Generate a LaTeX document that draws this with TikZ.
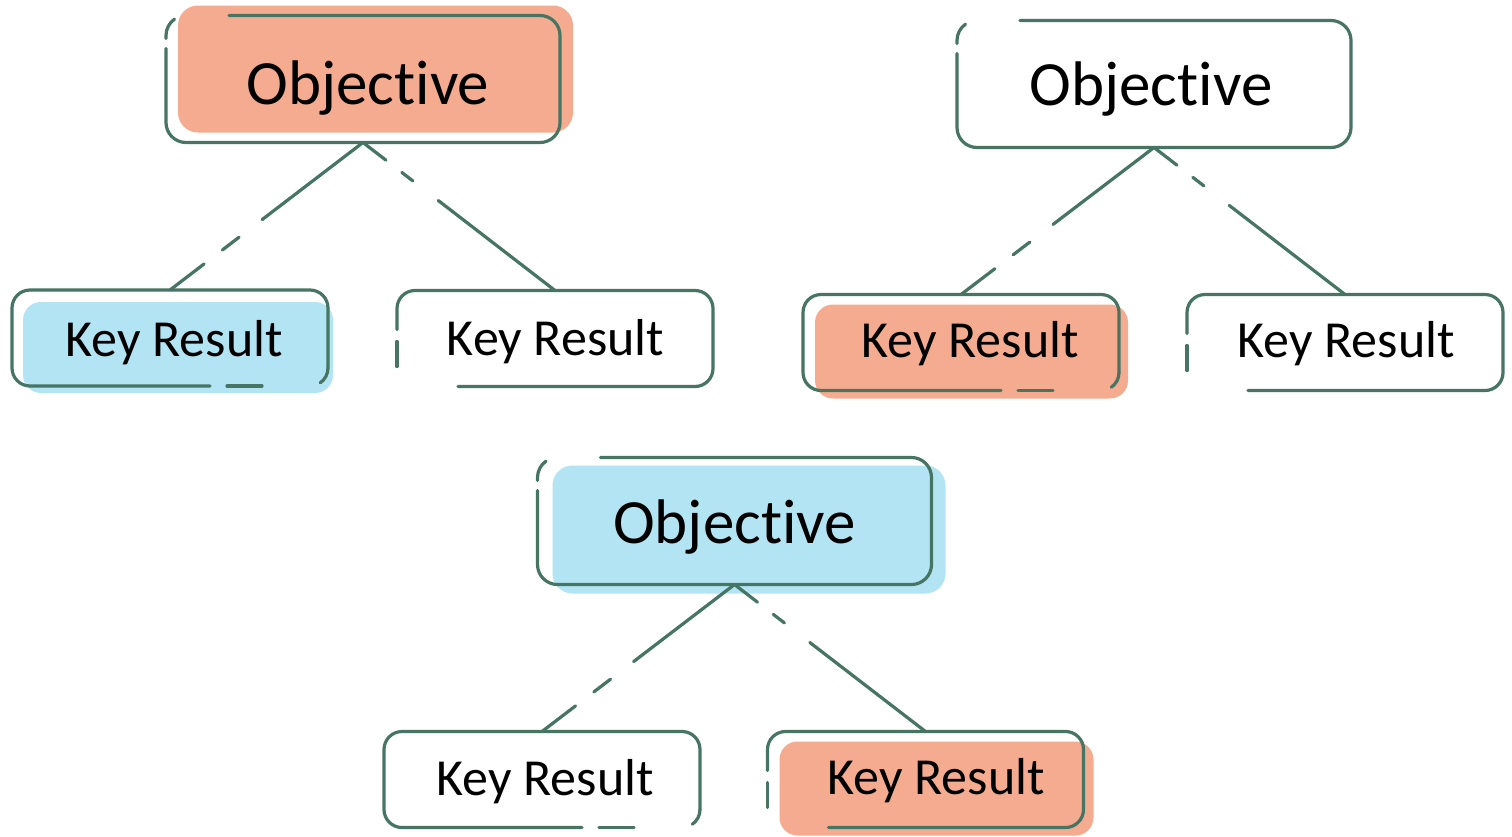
\documentclass[tikz,border=0pt]{standalone}
\usepackage{fontspec}
\setmainfont{Carlito}[Ligatures=NoCommon]
\usetikzlibrary{calc}
\definecolor{salmon}{HTML}{F5AB8F}
\definecolor{skyb}{HTML}{B3E4F3}
\definecolor{lineteal}{HTML}{467564}
\newcommand\objoutline[1]{%
 \draw[ol, rounded corners=20pt] ($(#1.north west)+(63,0)$) -- (#1.north east) -- (#1.south east) -- (#1.south west) -- ($(#1.north west)+(0,33)$);
 \draw[ol] ($(#1.north west)+(0,23)$) -- ($(#1.north west)+(0,20)$) arc[start angle=180, end angle=125, radius=20pt];
}
\newcommand\kroutB[1]{%
 \draw[ol, rounded corners=18pt] ($(#1.south east)+(-118,0)$) -- (#1.south west) -- (#1.north west) -- (#1.north east) -- ($(#1.south east)+(0,-18)$);
 \draw[ol] ($(#1.south east)+(0,-18)$) arc[start angle=0, end angle=-55, radius=18pt];
 \draw[ol] ($(#1.south east)+(-101,0)$) -- ($(#1.south east)+(-66,0)$);
}
\newcommand\kroutC[1]{%
 \draw[ol, rounded corners=18pt] ($(#1.north west)+(0,39)$) -- (#1.north west) -- (#1.north east) -- (#1.south east) -- ($(#1.south west)+(61,0)$);
 \draw[ol] ($(#1.north west)+(0,51)$) -- ($(#1.north west)+(0,76)$);
}
\newcommand\objword{Object\kern0pt ive}
\begin{document}
\begin{tikzpicture}[x=1pt,y=-1pt,
  obox/.style={minimum width=394pt, minimum height=127pt, inner sep=0pt, outer sep=0pt},
  kbox/.style={minimum width=316pt, minimum height=96pt, inner sep=0pt, outer sep=0pt},
  ol/.style={draw=lineteal, line width=3.2pt, line cap=round},
  otext/.style={font=\fontsize{63}{63}\selectfont, anchor=base, inner sep=0pt},
  ktext/.style={font=\fontsize{52}{52}\selectfont, anchor=base, inner sep=0pt},
  leftline/.style={ol, dash pattern=on 127pt off 29pt on 21pt off 23pt on 400pt off 1pt},
  rightline/.style={ol, dash pattern=on 29pt off 20pt on 14pt off 32pt on 400pt off 1pt},
]
\useasboundingbox[fill=white] (0,0) rectangle (1512,836);
% boxes
\node[obox] (o1) at (363,79) {};
\node[obox] (o2) at (1154,84) {};
\node[obox] (o3) at (734.5,521) {};
\node[kbox] (k1) at (170,338) {};
\node[kbox] (k2) at (555,338.5) {};
\node[kbox] (k3) at (961,342.5) {};
\node[kbox] (k4) at (1345,342.5) {};
\node[kbox] (k5) at (542,779.5) {};
\node[kbox] (k6) at (925.5,779.5) {};
% fills
\fill[salmon, rounded corners=20pt] ($(o1.north west)+(12,-10)$) rectangle ($(o1.south east)+(13,-10)$);
\fill[skyb, rounded corners=20pt] ($(o3.north west)+(15,8)$) rectangle ($(o3.south east)+(14,9)$);
\fill[skyb, rounded corners=18pt] ($(k1.north west)+(11,12)$) rectangle ($(k1.south east)+(5,7)$);
\fill[salmon, rounded corners=18pt] ($(k3.north west)+(12,10)$) rectangle ($(k3.south east)+(9,8)$);
\fill[salmon, rounded corners=18pt] ($(k6.north west)+(12,10)$) rectangle ($(k6.south east)+(10,8)$);
% outlines
\objoutline{o1}
\objoutline{o2}
\objoutline{o3}
\kroutB{k1}
\kroutB{k3}
\kroutB{k5}
\kroutC{k2}
\kroutC{k4}
\kroutC{k6}
% connectors
\draw[leftline] (o1.south) -- (k1.north);
\draw[rightline] (o1.south) -- (k2.north);
\draw[leftline] (o2.south) -- (k3.north);
\draw[rightline] (o2.south) -- (k4.north);
\draw[leftline] (o3.south) -- (k5.north);
\draw[rightline] (o3.south) -- (k6.north);
% texts
\node[otext] (to1) at (368,104) {\objword};
\node[otext] (to2) at (1151,105) {\objword};
\node[otext] (to3) at (734.5,543) {\objword};
\node[ktext] (tk1) at (174,356) {Key Result};
\node[ktext] (tk2) at (555.5,355) {Key Result};
\node[ktext] (tk3) at (970,357) {Key Result};
\node[ktext] (tk4) at (1346,357) {Key Result};
\node[ktext] (tk5) at (545,795) {Key Result};
\node[ktext] (tk6) at (936,794) {Key Result};
\end{tikzpicture}
\end{document}
